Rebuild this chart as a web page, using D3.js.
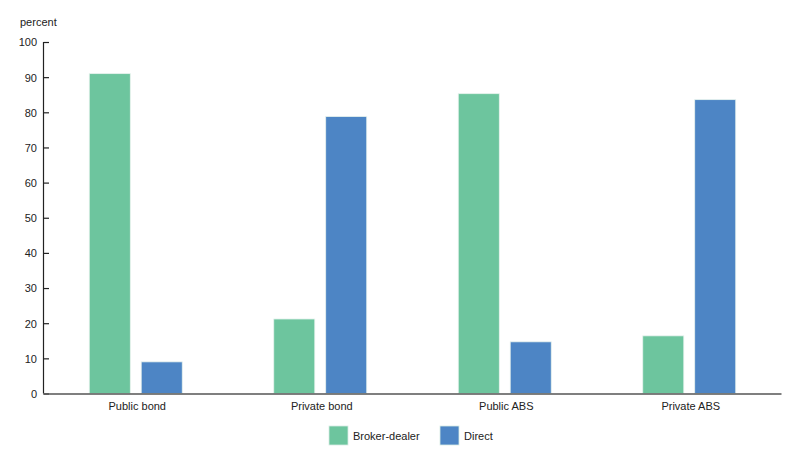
<!DOCTYPE html>
<html><head><meta charset="utf-8">
<script src="https://cdn.jsdelivr.net/npm/d3@7"></script>
<style>body{margin:0;background:#fff;} text{font-family:"Liberation Sans",Arial,sans-serif;}</style>
</head><body>
<svg id="c" width="800" height="464"></svg>
<script>
const categories = ["Public bond","Private bond","Public ABS","Private ABS"];
const seriesNames = ["Broker-dealer","Direct"];
const brokerDealer = [91.0, 21.2, 85.3, 16.4];
const direct = [9.0, 78.8, 14.7, 83.6];
const yTicks = [0,10,20,30,40,50,60,70,80,90,100];
const colors = ["#6dc59e","#4d85c5"];

(function(){
const svg = d3.select("#c");
const mLeft = 43, mRight = 781, mTop = 42, mBottom = 393.5;
const x = d3.scaleBand().domain(categories).range([mLeft, mRight]).padding(0);
const inner = d3.scaleBand().domain(seriesNames).range([0, 93]).paddingInner(0.21);
const y = d3.scaleLinear().domain([0,100]).range([mBottom, mTop]);

const data = [brokerDealer, direct];
categories.forEach((c,i)=>{
  seriesNames.forEach((s,j)=>{
    const cx = x(c) + x.bandwidth()/2 - 46;
    svg.append("rect")
      .attr("x", cx + inner(s))
      .attr("y", y(data[j][i]))
      .attr("width", inner.bandwidth())
      .attr("height", mBottom - y(data[j][i]))
      .attr("fill", colors[j])
      .attr("stroke", "#e8f3ee").attr("stroke-width", 0.8);
  });
});

const ya = svg.append("g").attr("transform", `translate(${mLeft},0)`)
  .call(d3.axisRight(y).tickValues(yTicks).tickSize(6).tickFormat(d3.format("d")));
ya.select(".domain").attr("stroke","#222").attr("stroke-width",1.2).attr("d", `M0.5,${mTop}V${mBottom}`);
ya.selectAll(".tick line").attr("stroke","#222").attr("stroke-width",1.2).attr("x1",0.5);
ya.selectAll(".tick text").attr("x",-6).attr("text-anchor","end").attr("font-size",11).attr("fill","#222").attr("dy","0.35em");

svg.append("text").attr("x",20).attr("y",26).attr("font-size",11).attr("fill","#222").text("percent");

const xa = svg.append("g").attr("transform", `translate(0,${mBottom})`)
  .call(d3.axisBottom(x).tickSize(0));
xa.select(".domain").attr("stroke","#555").attr("stroke-width",1.5);
xa.selectAll(".tick text").attr("font-size",11).attr("fill","#222").attr("y",9).attr("dy","0.71em").attr("dx",2);

const leg = svg.append("g");
const legX = [329, 440];
seriesNames.forEach((s,j)=>{
  leg.append("rect").attr("x",legX[j]).attr("y",426).attr("width",19).attr("height",19)
    .attr("fill",colors[j]).attr("stroke","#d8ece3").attr("stroke-width",0.8);
  leg.append("text").attr("x",legX[j]+24).attr("y",436).attr("dy","0.35em")
    .attr("font-size",11).attr("fill","#222").text(s);
});
})();
</script>
</body></html>
